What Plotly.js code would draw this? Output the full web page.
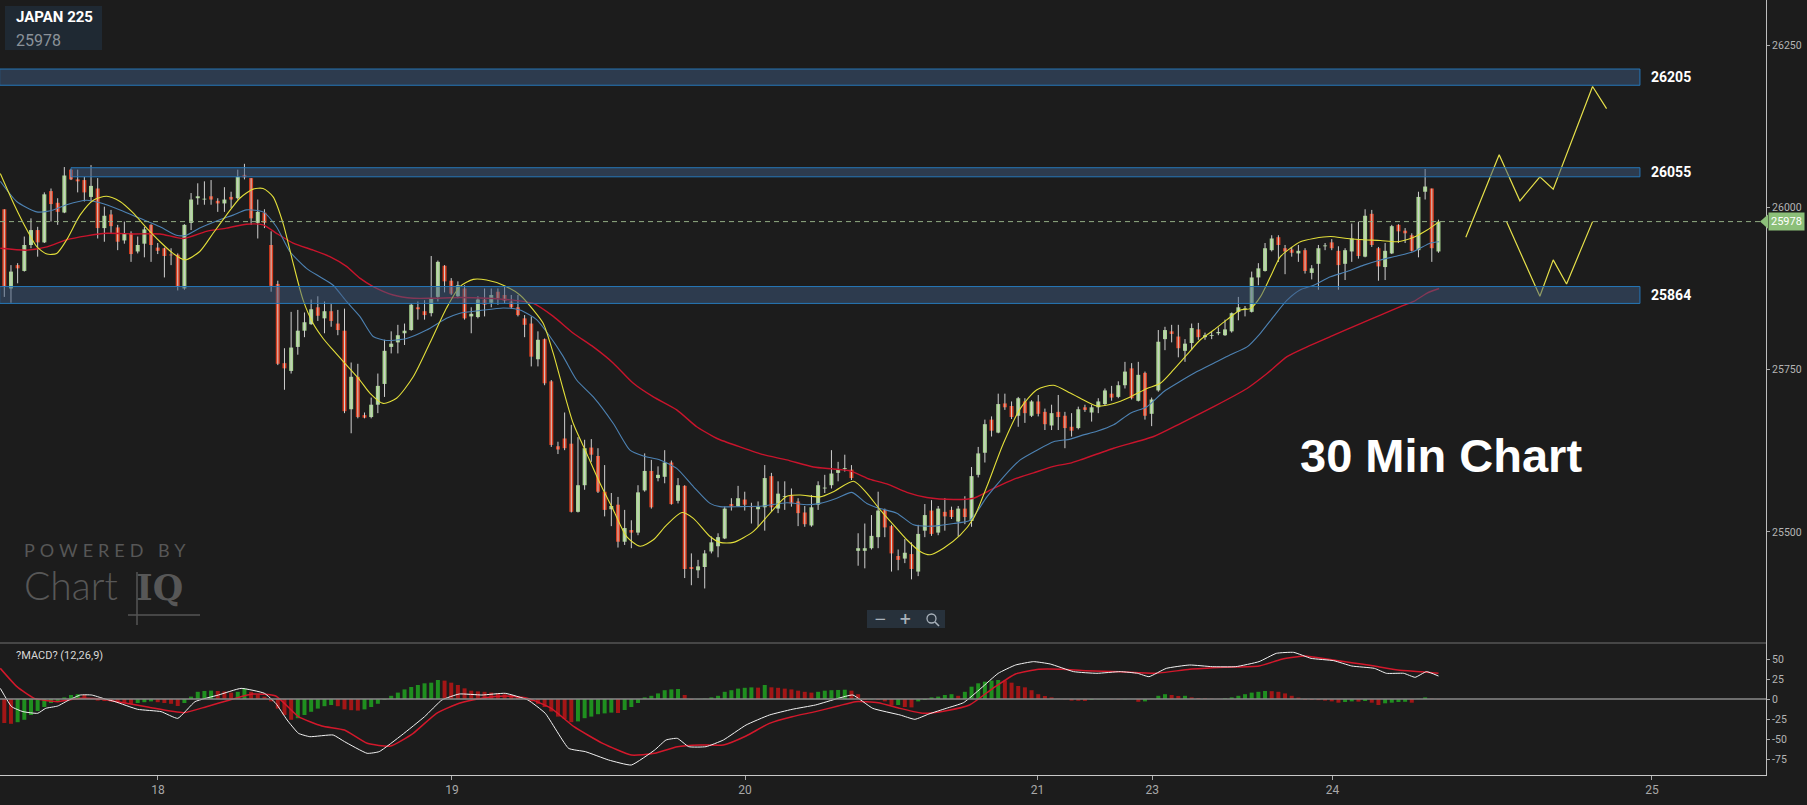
<!DOCTYPE html>
<html>
<head>
<meta charset="utf-8">
<script src="https://cdn.plot.ly/plotly-3.0.1.min.js"></script>
<style>
html,body{margin:0;padding:0;background:#1c1c1c;}
#chart{width:1807px;height:805px;}
</style>
</head>
<body>
<div id="chart"></div>
<script>
// ---------------- DATA (30-min bars, JAPAN 225) ----------------
const open = [25997,25875,25911,25902,25942,25965,25946,26025,26007,25992,26058,26043,26042,26016,26029,25968,25989,25969,25949,25960,
25932,25944,25973,25938,25937,25927,25927,25875,25976,26014,26012,26017,26010,26006,26016,26014,26050,26045,25976,25992,
25942,25882,25760,25748,25785,25810,25820,25846,25829,25840,25821,25810,25689,25739,25680,25677,25696,25728,25785,25792,
25806,25811,25846,25840,25837,25862,25910,25887,25863,25875,25832,25831,25858,25853,25870,25865,25855,25846,25829,25821,
25766,25797,25732,25632,25644,25636,25531,25572,25630,25617,25562,25535,25542,25485,25503,25499,25564,25594,25583,25585,
25607,25548,25571,25446,25441,25446,25470,25478,25490,25543,25540,25550,25539,25535,25538,25586,25536,25554,25557,25547,
25530,25510,25542,25567,25572,25591,25597,25596,25471,25471,25475,25492,25534,25509,25463,25459,25466,25439,25502,25533,
25499,25531,25534,25516,25536,25517,25588,25622,25673,25653,25698,25694,25679,25701,25679,25701,25685,25664,25685,25679,
25662,25660,25692,25684,25692,25697,25713,25708,25726,25752,25702,25745,25682,25718,25797,25809,25801,25779,25791,25812,
25800,25802,25806,25803,25809,25839,25843,25839,25892,25902,25934,25954,25937,25935,25929,25934,25899,25913,25940,25946,
25933,25913,25932,25950,25924,25990,25937,25908,25929,25973,25964,25957,25934,26024,26029,25932];
const high = [25997,25911,25914,25955,25983,25970,26023,26029,26014,26062,26059,26058,26047,26065,26045,26001,25996,25973,25978,25963,
25955,25970,25974,25945,25938,25937,25929,25974,26022,26037,26040,26042,26014,26031,26024,26058,26067,26045,26012,25997,
25963,25887,25783,25839,25842,25838,25858,25863,25855,25851,25842,25844,25761,25759,25684,25707,25744,25796,25809,25819,
25821,25852,25855,25857,25925,25918,25911,25891,25886,25880,25846,25863,25875,25875,25875,25878,25865,25865,25834,25832,
25809,25798,25734,25639,25684,25665,25646,25642,25643,25629,25603,25560,25554,25534,25518,25572,25621,25611,25601,25626,
25610,25583,25572,25467,25457,25472,25493,25498,25539,25552,25571,25562,25545,25547,25603,25591,25578,25578,25567,25552,
25540,25557,25578,25588,25626,25608,25619,25603,25498,25513,25526,25562,25536,25511,25473,25489,25484,25511,25543,25549,
25540,25552,25539,25540,25555,25600,25631,25673,25678,25713,25713,25701,25708,25706,25703,25711,25690,25696,25711,25685,
25683,25693,25696,25696,25706,25721,25725,25732,25762,25760,25762,25747,25707,25811,25816,25819,25819,25797,25821,25822,
25807,25809,25815,25827,25838,25862,25848,25901,25914,25945,25957,25957,25942,25939,25942,25937,25911,25942,25945,25951,
25940,25937,25975,25978,25997,25996,25939,25945,25973,25974,25968,25960,26024,26059,26029,25981];
const low = [25862,25853,25883,25901,25937,25924,25945,25978,25973,25991,26042,26023,26009,26009,25952,25947,25960,25934,25944,25916,
25929,25923,25916,25928,25892,25911,25872,25873,25965,26004,26004,26004,25993,25993,25999,26012,26043,25973,25952,25968,
25870,25757,25719,25744,25773,25800,25819,25825,25806,25816,25803,25683,25652,25675,25675,25675,25683,25708,25775,25775,
25788,25810,25827,25827,25832,25855,25869,25865,25860,25827,25806,25829,25832,25846,25850,25852,25844,25832,25800,25755,
25755,25726,25631,25620,25626,25530,25530,25565,25608,25560,25524,25509,25476,25480,25475,25495,25562,25536,25578,25575,
25542,25544,25429,25418,25429,25413,25467,25461,25489,25533,25539,25533,25513,25508,25502,25531,25529,25534,25539,25509,
25508,25508,25534,25560,25567,25578,25593,25580,25448,25444,25473,25475,25492,25439,25441,25452,25427,25432,25492,25494,
25495,25502,25520,25493,25512,25508,25584,25607,25647,25652,25688,25674,25662,25668,25677,25678,25657,25657,25657,25629,
25647,25658,25685,25670,25683,25694,25702,25706,25721,25704,25701,25673,25663,25716,25780,25792,25769,25762,25780,25796,
25796,25797,25803,25802,25807,25826,25832,25838,25880,25901,25932,25916,25897,25924,25916,25898,25889,25873,25934,25934,
25873,25888,25916,25921,25923,25939,25887,25888,25928,25945,25945,25932,25923,26012,25916,25930];
const close = [25878,25901,25906,25942,25965,25946,26020,26005,25993,26049,26043,26040,26023,26033,25968,25987,25971,25947,25960,25928,
25942,25966,25942,25933,25925,25926,25878,25973,26012,26017,26013,26012,26006,26012,26012,26047,26046,25983,25993,25976,
25879,25759,25752,25784,25810,25823,25843,25833,25840,25825,25811,25686,25739,25677,25676,25696,25725,25779,25790,25803,
25810,25850,25843,25834,25860,25916,25886,25867,25880,25829,25836,25858,25850,25865,25860,25856,25846,25834,25819,25770,
25796,25729,25634,25627,25629,25531,25572,25629,25619,25562,25534,25540,25485,25506,25499,25561,25594,25538,25588,25607,
25543,25572,25443,25443,25447,25467,25484,25492,25536,25539,25552,25542,25538,25539,25583,25538,25559,25555,25544,25529,
25512,25538,25572,25568,25590,25596,25598,25583,25475,25475,25494,25533,25507,25467,25457,25468,25443,25497,25526,25497,
25536,25524,25523,25536,25523,25586,25621,25666,25656,25697,25692,25677,25706,25683,25701,25682,25666,25683,25677,25660,
25656,25689,25688,25692,25701,25718,25707,25726,25747,25706,25742,25679,25704,25793,25811,25805,25783,25790,25814,25800,
25803,25803,25808,25812,25837,25846,25844,25892,25906,25937,25952,25942,25932,25930,25933,25902,25906,25937,25941,25937,
25911,25934,25952,25925,25987,25942,25909,25933,25971,25963,25960,25933,26016,26032,25937,25978];

// moving averages (bar index, price)
const maYellowIdx = [-0.6,1.4,3.4,4.9,6.4,7.85,9.35,11.35,13.35,15.35,17.35,19.35,21.35,23.35,25.3,27.1,29.3,31.3,33.3,35.3,37.3,38.8,40.3,41.8,43.3,44.8,46.3,47.8,49.3,51.3,
53.3,54.8,56.8,58.8,61.3,63.8,66.3,68.3,70.3,72.3,74.8,77.3,79.3,80.8,82.3,83.8,85.3,87.3,89.3,91.3,93.3,95.3,97.3,99.3,101.6,103.3,105.8,
107.3,109.3,112.3,114.8,117.3,119.3,122.3,124.3,127.3,129.3,131.3,133.3,135.3,137.3,138.8,140.8,143.3,145.3,147.3,149.8,152.3,154.8,157.3,159.8,
161.3,163.8,166.3,168.8,171.3,173.3,175.3,177.3,179.3,181.3,183.3,185.3,186.8,188.3,189.8,191.3,192.8,194.3,196.3,198.8,201.3,203.8,206.3,208.8,211.3,213.3,215.1];
const maYellowVal = [26052,26006,25965,25939,25928,25929,25950,25988,26011,26017,26009,25991,25968,25947,25929,25919,25932,25960,25988,26014,26028,26029,26016,25975,25914,25857,25821,25798,25780,25757,
25734,25714,25698,25706,25739,25791,25845,25878,25889,25888,25880,25865,25842,25821,25775,25719,25667,25621,25575,25534,25493,25478,25488,25511,25530,25521,25493,
25484,25484,25501,25529,25555,25557,25554,25562,25578,25560,25534,25511,25488,25470,25465,25475,25495,25521,25570,25637,25690,25719,25726,25714,
25706,25694,25698,25708,25721,25729,25750,25773,25796,25811,25827,25842,25844,25862,25893,25924,25937,25947,25952,25955,25952,25950,25949,25947,25954,25965,25978];
const maBlueIdx = [-0.6,1.85,4.85,7.35,9.35,12.35,14.35,17.35,20.35,23.35,25.8,27.3,29.3,32.3,34.3,36.3,38.8,40.8,42.8,45.3,47.3,49.3,51.3,
53.3,55.3,57.3,60.3,63.3,66.3,68.3,71.3,74.8,77.3,79.8,81.8,83.8,85.8,88.3,91.3,93.8,95.8,98.3,100.8,103.3,105.8,
107.3,110.3,113.8,117.3,120.3,122.3,124.8,127.05,129.3,131.3,133.8,136.3,139.3,142.3,144.8,147.3,149.8,152.3,154.8,157.3,159.8,
161.3,163.8,166.3,168.8,171.3,173.8,176.3,178.8,181.3,183.8,186.3,188.3,190.3,192.3,194.3,196.3,198.8,201.3,203.8,206.3,208.8,211.3,213.8,215.1];
const maBlueVal = [26040,26009,25993,25996,26004,26011,26007,25996,25983,25970,25957,25957,25968,25981,25988,25996,25993,25970,25932,25906,25893,25880,25855,
25832,25801,25795,25798,25811,25829,25837,25841,25845,25842,25827,25801,25770,25734,25708,25667,25626,25617,25611,25598,25570,25544,
25539,25539,25540,25545,25542,25544,25552,25561,25544,25536,25529,25511,25509,25513,25518,25554,25585,25611,25626,25639,25643,
25648,25655,25665,25683,25693,25716,25732,25747,25760,25773,25785,25806,25832,25857,25873,25880,25893,25901,25911,25919,25925,25932,25945,25947];
const maRedIdx = [-0.6,3.4,6.4,9.35,12.35,15.35,19.35,23.35,26.85,30.3,33.3,36.3,38.8,40.8,43.3,46.3,48.8,51.3,
53.3,55.3,58.3,61.3,64.3,68.3,72.3,76.3,79.3,82.3,85.3,88.3,91.3,94.3,97.3,100.8,103.8,106.3,
107.3,110.3,113.8,117.3,121.3,124.3,126.8,129.8,132.3,135.3,138.3,142.3,145.3,148.3,151.3,154.3,157.3,159.8,
161.3,166.3,172.3,176.3,181.3,186.3,189.3,192.3,195.3,199.3,203.3,206.3,209.3,211.3,213.3,215.1];
const maRedVal = [25937,25934,25939,25950,25956,25960,25959,25959,25952,25963,25968,25974,25973,25960,25945,25934,25924,25909,
25891,25878,25865,25860,25860,25861,25860,25857,25852,25832,25806,25785,25760,25729,25708,25688,25662,25647,
25642,25631,25619,25611,25600,25597,25594,25581,25574,25561,25553,25550,25552,25567,25581,25591,25601,25606,
25611,25629,25647,25667,25693,25721,25744,25770,25785,25803,25821,25834,25847,25855,25868,25875];

// MACD (12,26,9)
const macdIdx = [-0.6,1.1,2.8,5.0,6.2,8.0,9.7,11.4,13.1,14.8,16.6,20.0,23.5,26.0,28.6,32.1,35.5,39.0,40.7,42.4,
44.1,45.8,49.3,51.0,54.4,56.2,59.6,63.0,65.6,68.2,71.6,75.1,78.5,81.1,84.6,87.1,90.6,94.0,97.5,99.2,
100.9,102.6,105.2,107.8,111.2,114.7,118.1,121.6,125.0,127.2,130.2,
134.3,136.5,138.6,141.2,143.8,146.4,149.0,151.6,154.3,156.8,160.3,163.8,167.3,169.9,171.6,174.2,177.7,181.1,184.6,188.1,
190.7,193.3,195.9,199.3,202.0,205.4,207.2,209.8,211.5,213.2,215.0];
const macdVal = [13.3,-9.6,-15.8,-17.9,-11.7,-8.8,-1.25,5,5,0.8,-3.3,-12.9,-15.8,-24.2,-3.3,5,13.3,7.1,-5.4,-26.25,
-42.9,-47.1,-45,-53.3,-67.9,-65.8,-45,-22.1,-1.25,6.25,5,7.1,-1.25,-17.9,-61.7,-65.8,-76.25,-82.5,-63.75,-51.25,
-49.2,-59.6,-59.6,-51.25,-32.5,-20,-12.9,-7.5,0.8,5,-11.7,
-20,-25.4,-18.75,-11.7,-4.6,13.3,32.1,42.5,46.7,43.75,34.2,32.1,34.2,32.1,27.9,38.3,42.5,40.4,40.4,46.7,
57.1,58.3,50.8,47.9,41.25,38.3,32.1,32.1,27.1,34.2,28.75];
const signalIdx = [-0.6,1.9,4.5,8.0,11.4,14.8,18.3,21.7,26.9,30.3,33.8,37.2,40.7,44.1,47.6,51.0,54.4,57.9,61.3,64.8,
68.2,71.6,75.1,78.5,82.0,85.4,89.7,94.0,97.5,100.9,104.3,107.8,111.2,114.7,118.1,121.6,125.0,127.6,131.0,
134.3,137.8,141.2,144.7,148.2,151.6,155.1,158.6,162.1,167.3,172.5,177.7,182.9,188.1,191.5,195.0,198.5,202.0,205.4,208.9,212.4,215.0];
const signalVal = [38.3,15.4,0.8,-3.3,0.8,-0.4,-5.4,-10.4,-17.1,-9.6,-1.25,6.25,3.75,-22.1,-33.75,-38.75,-55.4,-58.75,-42.9,-17.9,
-5.4,0.8,3.75,0.8,-11.7,-34.6,-55.4,-70,-67.9,-59.6,-57.5,-57.5,-46.25,-30.4,-22.1,-15.8,-8.75,-3.3,-4.6,
-11.7,-17.9,-14.6,-7.5,13.3,31.25,37.1,37.1,35.4,34.2,32.1,37.1,39.6,41.25,49.6,53.75,49.6,45.4,41.25,36.25,34.2,32.1];
const histVal = [-30,-31,-29,-26,-20,-15,-10,-5,-3,2, 5,6,5,0,-2,-2.5,-3,-4.6,-5,-6,
-5,-4,-3,-4,-5,-6,-8.75,-5,3,9, 10,10.5,10,9.5,8,9,13,9,5,3,
-3,-12,-20,-26,-24,-20,-16,-12,-9,-7.5, -9,-13,-14,-14.5,-13,-10,-6,-1,4,8,
12,15,17.5,19.6,20.4,23.75,23,20.4,17.5,13.3, 10.4,9.5,9,8,7,6,5,3,1,-3,
-6,-10,-15.6,-22,-25,-29,-28,-24,-22,-19, -18,-17,-17.5,-13.75,-10,-5,2,4,7,11,
12,12.5,5,-1,-0.4,0.4,2,4,9,11, 13,14,14.5,14.2,17.5,14.6,14,13,12,10.4,
9,8,9,10.4,11,11.3,11.6,10.4,6,-1, -0.5,-1,-3,-8,-7.5,-10,-10.5,-3,-1.25,2,
3,5,6,4,9,15.4,19.6,21.7,23,23.75, 23,20.4,16.25,14.6,11,6,3.75,2,0.4,-0.4,
-2,-2.2,-2.4,-1,-0.4,0,-0.4,-0.6,-0.4,0, -3.5,-3,0.4,4,6,5,3.8,4,2,1.25,
0.8,0.4,0.2,0.8,2,4,6,8,9,10, 9.8,9,7,4,1.7,-1,-1.2,-1.4,-2,-3,
-4.6,-3.75,-3,-3.3,-2.5,-4.6,-7.5,-5.4,-4.6,-3.75, -3.5,-4.6,0.4,2,0.4,-0.4];

// support / resistance zones
const bandLabels = ['26205','26055','25864'];
const bandLow    = [26188, 26047, 25852];
const bandHigh   = [26213, 26061, 25878];
const bandStart  = [-0.7, 10.0, -0.7];
const bandEnd    = [245.2, 245.2, 245.2];

// projected paths
const fcUpIdx = [219.1,224.1,227.2,230.2,232.2,238.1,240.2];
const fcUpVal = [25954,26081,26010,26047,26028,26186,26152];
const fcDnIdx = [225.2,230.2,232.2,234.2,238.1];
const fcDnVal = [25978,25863,25919,25882,25978];

// axis ticks
const dayTickIdx  = [23.04,67.1,111.05,154.9,172.1,199.1,247.0];
const dayTickText = ['18','19','20','21','23','24','25'];
const priceTicks  = [25500,25750,26000,26250];
const macdTicks   = [-75,-50,-25,0,25,50];
const lastPrice   = 25978;
const symbol      = 'JAPAN 225';

// ---------------- BUILD ----------------
const idx = open.map((_, i) => i);
const wx = [], wy = [];
idx.forEach(i => { wx.push(i, i, null); wy.push(low[i], high[i], null); });
const bodyBase = idx.map(i => Math.min(open[i], close[i]));
const bodyLen  = idx.map(i => Math.max(Math.abs(close[i] - open[i]), 1.3));
const GREEN = '#a6d38d', RED = '#dc3d1e';
const bodyCol = idx.map(i => close[i] >= open[i] ? GREEN : RED);
const histCol = histVal.map((v, i) => (i > 0 && v > histVal[i - 1]) ? '#1f8f1f' : '#a31616');

// plot area: 1766 x 775 px
const PW = 1766, PH = 775;
const px = x => x / PW, py = y => (PH - y) / PH;
const splitY = py(643);

const traces = [
  {type:'scatter', mode:'lines', x:wx, y:wy, xaxis:'x', yaxis:'y',
   line:{color:'#cfcfcf', width:1}, hoverinfo:'skip', showlegend:false},
  {type:'bar', x:idx, y:bodyLen, base:bodyBase, xaxis:'x', yaxis:'y', width:0.6,
   marker:{color:bodyCol, line:{width:0}}, hoverinfo:'skip', showlegend:false},
  {type:'scatter', mode:'lines', x:maRedIdx, y:maRedVal, line:{color:'#c8142c', width:1.4, shape:'spline', smoothing:0.6}, hoverinfo:'skip', showlegend:false},
  {type:'scatter', mode:'lines', x:maBlueIdx, y:maBlueVal, line:{color:'#4d82b3', width:1.1, shape:'spline', smoothing:0.6}, hoverinfo:'skip', showlegend:false},
  {type:'scatter', mode:'lines', x:maYellowIdx, y:maYellowVal, line:{color:'#e3df3a', width:1.1, shape:'spline', smoothing:0.7}, hoverinfo:'skip', showlegend:false},
  {type:'scatter', mode:'lines', x:fcUpIdx, y:fcUpVal, line:{color:'#e6e04a', width:1.2}, hoverinfo:'skip', showlegend:false},
  {type:'scatter', mode:'lines', x:fcDnIdx, y:fcDnVal, line:{color:'#e6e04a', width:1.2}, hoverinfo:'skip', showlegend:false},
  // MACD panel
  {type:'bar', x:idx, y:histVal, xaxis:'x', yaxis:'y2', width:0.6,
   marker:{color:histCol, line:{width:0}}, hoverinfo:'skip', showlegend:false},
  {type:'scatter', mode:'lines', x:signalIdx, y:signalVal, xaxis:'x', yaxis:'y2',
   line:{color:'#d3182b', width:1.5, shape:'spline', smoothing:0.5}, hoverinfo:'skip', showlegend:false},
  {type:'scatter', mode:'lines', x:macdIdx, y:macdVal, xaxis:'x', yaxis:'y2',
   line:{color:'#f2f2f2', width:1, shape:'spline', smoothing:0.4}, hoverinfo:'skip', showlegend:false}
];

const shapes = [];
// zones
bandLabels.forEach((_, k) => shapes.push({type:'rect', xref:'x', yref:'y', layer:'above',
  x0:bandStart[k], x1:bandEnd[k], y0:bandLow[k], y1:bandHigh[k],
  fillcolor:'rgba(62,90,128,0.5)', line:{color:'#2677b8', width:1}}));
// last price dashed line
shapes.push({type:'line', xref:'paper', yref:'y', x0:0, x1:1, y0:lastPrice, y1:lastPrice,
  line:{color:'#93ac84', width:1, dash:'5px,4px'}});
// price tag arrow
shapes.push({type:'path', xref:'paper', yref:'y', layer:'above',
  path:`M ${px(1760)},${lastPrice} L ${px(1768)},${lastPrice+11} L ${px(1768)},${lastPrice-11} Z`,
  fillcolor:'#8cbf79', line:{width:0}});
// panel separator and MACD zero line
shapes.push({type:'line', xref:'paper', yref:'paper', x0:0, x1:1, y0:splitY, y1:splitY, line:{color:'#707070', width:1}});
shapes.push({type:'line', xref:'paper', yref:'y2', x0:0, x1:1, y0:0, y1:0, line:{color:'#8a8a8a', width:1.5}, layer:'above'});
// symbol box
shapes.push({type:'rect', xref:'paper', yref:'paper', x0:px(5), x1:px(102), y0:py(50), y1:py(6),
  fillcolor:'#1f2933', line:{width:0}});
// zoom control box
shapes.push({type:'rect', xref:'paper', yref:'paper', x0:px(867), x1:px(945), y0:py(628), y1:py(610),
  fillcolor:'#27313b', line:{width:0}});
shapes.push({type:'circle', xref:'paper', yref:'paper', x0:px(927), x1:px(936), y0:py(623), y1:py(614),
  line:{color:'#a9b2bb', width:1.3}});
shapes.push({type:'line', xref:'paper', yref:'paper', x0:px(935), x1:px(939), y0:py(622), y1:py(626),
  line:{color:'#a9b2bb', width:1.6}});
// watermark lines
shapes.push({type:'line', xref:'paper', yref:'paper', x0:px(137), x1:px(137), y0:py(572), y1:py(625), line:{color:'#555', width:1.5}});
shapes.push({type:'line', xref:'paper', yref:'paper', x0:px(128), x1:px(200), y0:py(615), y1:py(615), line:{color:'#555', width:1.5}});

const annotations = [
  {xref:'paper', yref:'paper', x:px(14), y:py(17), xanchor:'left', yanchor:'middle', showarrow:false,
   text:'<b>'+symbol+'</b>', font:{family:'Roboto', size:15, color:'#ffffff'}},
  {xref:'paper', yref:'paper', x:px(14), y:py(40), xanchor:'left', yanchor:'middle', showarrow:false,
   text:String(lastPrice), font:{family:'Roboto', size:16, color:'#8b9299'}},
  {xref:'paper', yref:'paper', x:px(14), y:py(655), xanchor:'left', yanchor:'middle', showarrow:false,
   text:'?MACD? (12,26,9)', font:{family:'Roboto', size:11, color:'#d8d8d8'}},
  {xref:'paper', yref:'paper', x:px(1441), y:py(455), xanchor:'center', yanchor:'middle', showarrow:false,
   text:'<b>30 Min Chart</b>', font:{family:'Liberation Sans, Arial', size:47, color:'#ffffff'}},
  {xref:'paper', yref:'y', x:px(1768), y:lastPrice, xanchor:'left', yanchor:'middle', showarrow:false,
   text:String(lastPrice), bgcolor:'#8cbf79', borderpad:2, font:{family:'Roboto', size:11, color:'#ffffff'}},
  // watermark (single text block)
  {xref:'paper', yref:'paper', x:px(22), y:py(573), xanchor:'left', yanchor:'middle', align:'left', showarrow:false,
   text:'<span style="font-size:18px;letter-spacing:5px">POWERED BY</span><br>' +
        '<span style="font-size:39px;font-weight:300">Chart</span><span style="font-size:36px">&#160;&#160;</span>' +
        '<span style="font-size:35px;font-family:DejaVu Serif;font-weight:bold">IQ</span>',
   font:{family:'Lato', size:33, color:'#575757'}},
  {xref:'paper', yref:'paper', x:px(880), y:py(619), xanchor:'center', yanchor:'middle', showarrow:false,
   text:'−', font:{family:'DejaVu Sans', size:15, color:'#a9b2bb'}},
  {xref:'paper', yref:'paper', x:px(906), y:py(619), xanchor:'center', yanchor:'middle', showarrow:false,
   text:'<b>+</b>', font:{family:'DejaVu Sans', size:15, color:'#a9b2bb'}}
];
bandLabels.forEach((t, k) => annotations.push({xref:'x', yref:'y', x:bandEnd[k], y:(bandLow[k]+bandHigh[k])/2,
  xanchor:'left', yanchor:'middle', xshift:9, showarrow:false, text:'<b>'+t+'</b>',
  font:{family:'Roboto', size:14, color:'#ffffff'}}));

const axisFont = {family:'Roboto', size:10.5, color:'#b5b5b5'};
const layout = {
  width:1807, height:805,
  margin:{l:0, r:41, t:0, b:30, pad:0},
  paper_bgcolor:'#1c1c1c', plot_bgcolor:'#1c1c1c',
  showlegend:false, barmode:'overlay', hovermode:false,
  xaxis:{domain:[0,1], range:[-0.645, 264.1], anchor:'y2', showgrid:false, zeroline:false,
    showline:true, linecolor:'#c8c8c8', linewidth:1,
    tickmode:'array', tickvals:dayTickIdx, ticktext:dayTickText,
    ticks:'outside', ticklen:4, tickcolor:'#aaaaaa', tickfont:{family:'Roboto', size:12, color:'#a8a8a8'}},
  yaxis:{domain:[splitY,1], range:[25329, 26319.3], side:'right', anchor:'x', showgrid:false, zeroline:false,
    showline:true, linecolor:'#bdbdbd', linewidth:1,
    tickmode:'array', tickvals:priceTicks, ticktext:priceTicks.map(String),
    ticks:'outside', ticklen:3, tickcolor:'#aaaaaa', tickfont:axisFont},
  yaxis2:{domain:[0,splitY], range:[-95, 70], side:'right', anchor:'x', showgrid:false, zeroline:false,
    showline:true, linecolor:'#bdbdbd', linewidth:1,
    tickmode:'array', tickvals:macdTicks, ticktext:macdTicks.map(String),
    ticks:'outside', ticklen:3, tickcolor:'#aaaaaa', tickfont:axisFont},
  shapes:shapes,
  annotations:annotations
};

Plotly.newPlot('chart', traces, layout, {displayModeBar:false, staticPlot:true});
</script>
</body>
</html>
